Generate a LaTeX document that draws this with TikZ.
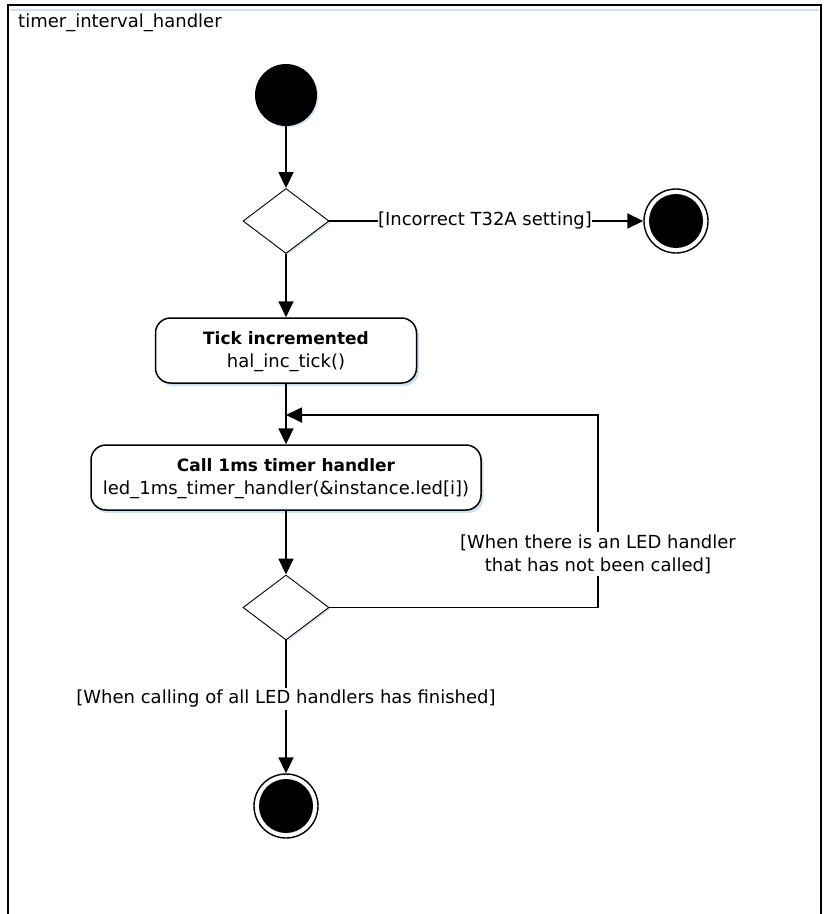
\documentclass[tikz,border=0pt]{standalone}
\usepackage{fontspec}
\setmainfont{DejaVu Sans}
\usetikzlibrary{arrows.meta,shapes.geometric,shadows}
\definecolor{shadowblue}{RGB}{208,224,243}
\begin{document}
\begin{tikzpicture}[x=1pt,y=-1pt,
  every node/.style={font=\fontsize{18}{23}\selectfont},
  conn/.style={line width=1.8pt,-{Triangle[length=16pt,width=15pt]}},
  plainline/.style={line width=1.8pt},
  softshadow/.style={drop shadow={shadow xshift=2.5pt,shadow yshift=-3pt,fill=shadowblue,opacity=1}},
  actbox/.style={draw,line width=1.5pt,rounded corners=15pt,fill=white,align=center,inner sep=0pt,minimum height=65pt,softshadow},
  decision/.style={diamond,draw,line width=0.9pt,fill=white,inner sep=0pt,minimum width=86pt,minimum height=65pt,drop shadow={shadow xshift=1.5pt,shadow yshift=-1.5pt,fill=shadowblue,opacity=1}},
  initial/.style={circle,fill=black,inner sep=0pt,minimum size=62pt,drop shadow={shadow xshift=1.5pt,shadow yshift=-1.5pt,fill=shadowblue,opacity=1}},
  final/.style={circle,draw,line width=1.4pt,fill=white,inner sep=0pt,minimum size=64pt},
  guard/.style={inner xsep=0pt,inner ysep=2pt,align=center}
]
\useasboundingbox (0,0) rectangle (828,914);
% frame
\draw[shadowblue,line width=2pt] (10,10) -- (819,10);
\draw[line width=2.5pt] (8,914) -- (8,5) -- (821,5) -- (821,914);
\node[anchor=west,inner sep=0pt] (title) at (18,23) {timer\_interval\_handler};

% nodes
\node[initial] (start) at (286,95) {};
\node[decision] (d1) at (286,221) {};
\node[guard,inner ysep=0pt] (g1) at (485,221) {[Incorrect T32A setting]};
\node[final] (end1) at (676,221) {};
\fill (end1.center) circle (27pt);
\node[actbox,minimum width=261pt] (tick) at (286,350.5)
  {\rule{0pt}{16pt}{\fontsize{17}{23}\selectfont\bfseries Tick incremented}\\hal\_inc\_tick()};
\node[actbox,minimum width=390pt] (call) at (286,477.5)
  {\rule{0pt}{16pt}{\fontsize{17}{23}\selectfont\bfseries Call 1ms timer handler}\\led\_1ms\_timer\_handler(\&instance.led[i])};
\node[decision] (d2) at (286,607.5) {};
\node[guard] (g2) at (598,554) {[When there is an LED handler\\that has not been called]};
\node[guard] (g3) at (286,699) {[When calling of all LED handlers has finished]};
\node[final] (end2) at (286,806) {};
\fill (end2.center) circle (27pt);
\coordinate (join) at (286,415);

% connectors
\draw[conn] (start.south) -- (d1.north);
\draw[plainline] (d1.east) -- (g1.west);
\draw[conn] (g1.east) -- (end1.west);
\draw[conn] (d1.south) -- (tick.north);
\draw[conn] (tick.south) -- (call.north);
\draw[conn] (call.south) -- (d2.north);
\draw[plainline] (d2.east) -| (g2.south);
\draw[conn] (g2.north) |- (join);
\draw[plainline] (d2.south) -- (g3.north);
\draw[conn] (g3.south) -- (end2.north);
\end{tikzpicture}
\end{document}
